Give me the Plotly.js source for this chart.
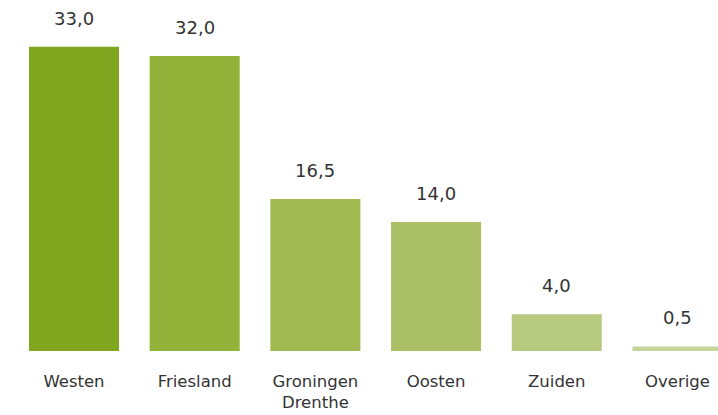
<!DOCTYPE html>
<html>
<head>
<meta charset="utf-8">
<script src="https://cdn.plot.ly/plotly-3.0.1.min.js"></script>
<style>html,body{margin:0;padding:0;background:#fff;}#chart{width:718px;height:415px;}</style>
</head>
<body>
<div id="chart"></div>
<script>
var categories = ["Westen", "Friesland", "Groningen<br>Drenthe", "Oosten", "Zuiden", "Overige"];
var values = [33.0, 32.0, 16.5, 14.0, 4.0, 0.5];
var valueLabels = ["33,0", "32,0", "16,5", "14,0", "4,0", "0,5"];
var barColors = ["#7fa61e", "#93b23a", "#a1ba52", "#abc066", "#b8ca80", "#c5d49a"];

var trace = {
  type: "bar",
  x: categories,
  y: values,
  marker: {color: barColors, line: {width: 0}},
  hoverinfo: "none"
};

var annotations = categories.map(function (c, i) {
  return {
    x: c, y: values[i], xref: "x", yref: "y",
    text: valueLabels[i], showarrow: false,
    yanchor: "bottom", yshift: 16,
    font: {family: "DejaVu Sans", size: 18, color: "#333333"}
  };
});

var layout = {
  width: 718, height: 415,
  margin: {l: 0, r: 0, t: 10, b: 64, pad: 0},
  paper_bgcolor: "#ffffff", plot_bgcolor: "#ffffff",
  bargap: 0.254,
  showlegend: false,
  xaxis: {
    type: "category",
    range: [-0.613, 5.336],
    showgrid: false, zeroline: false, showline: false,
    ticks: "", ticklabelstandoff: 18,
    tickfont: {family: "DejaVu Sans", size: 16.5, color: "#333333"},
    fixedrange: true
  },
  yaxis: {
    range: [0, 37.0],
    visible: false, showgrid: false, zeroline: false,
    fixedrange: true
  },
  annotations: annotations
};

Plotly.newPlot("chart", [trace], layout, {displayModeBar: false, staticPlot: true});
</script>
</body>
</html>
